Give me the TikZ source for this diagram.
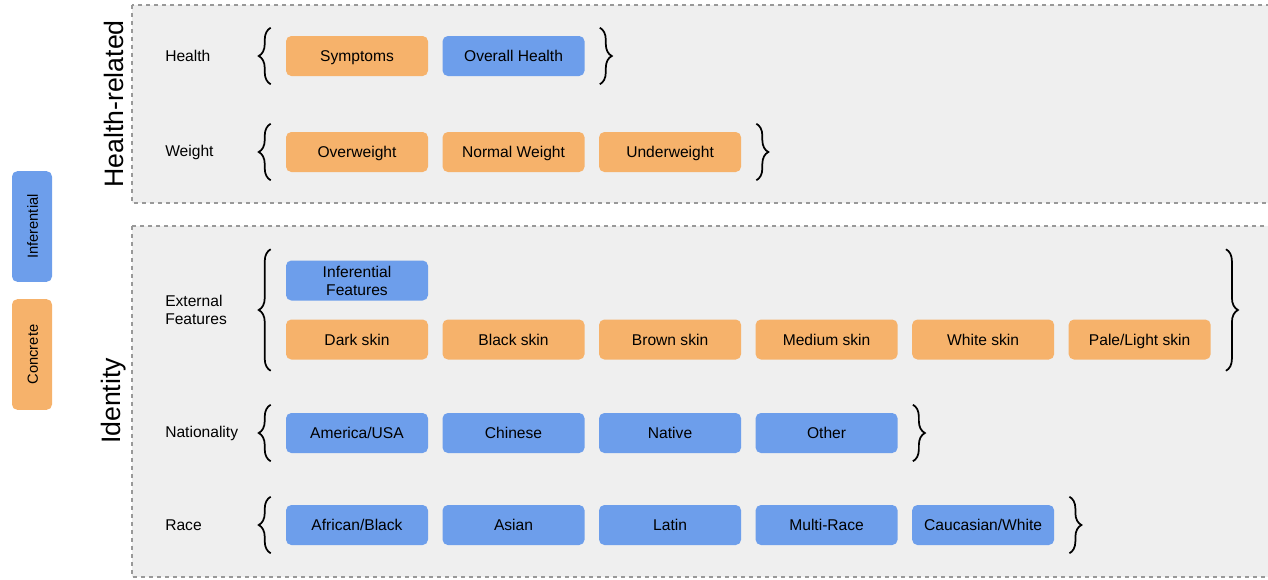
\documentclass[tikz,border=0pt]{standalone}
\usepackage{fontspec}
\setmainfont{Liberation Sans}
\usepackage{tikz}
\usetikzlibrary{calc,positioning,decorations.pathreplacing}
\definecolor{concrete}{HTML}{F6B26B}
\definecolor{inferential}{HTML}{6D9EEB}
\definecolor{panel}{HTML}{EFEFEF}

\begin{document}
\begin{tikzpicture}[x=0.75pt,y=-0.75pt,node distance=10.5pt,
		cat/.style={rounded corners=4pt,minimum width=106.5pt,minimum height=30pt,inner sep=1pt,align=center,font=\fontsize{11.7}{13.5}\selectfont},
		oneline/.style={text height=8.7pt,text depth=0pt},
		conc/.style={cat,oneline,fill=concrete},
		infer/.style={cat,oneline,fill=inferential},
		grp/.style={draw=black!40,dashed,line width=0.8pt,fill=panel},
		brc/.style={decorate,decoration={brace,amplitude=9pt},line width=1.3pt},
		lbl/.style={anchor=west,align=left,inner sep=0pt,font=\fontsize{11.7}{13.5}\selectfont},
		big/.style={rotate=90,font=\fontsize{20}{24}\selectfont}]
		\useasboundingbox (0,0) rectangle (1268,579);
		% groups
		\draw[grp] (132,5) rectangle (1275,203);
		\draw[grp] (132,226) rectangle (1275,577);
		\node[big] (healthrel) at (114,104) {Health-related};
		\node[big] (identity) at (114,401) {Identity};
		% legend
		\node[infer,rotate=90,minimum width=83pt,font=\fontsize{11}{12}\selectfont] (leginf) at (32,226.5) {Inferential};
		\node[conc,rotate=90,minimum width=83pt,font=\fontsize{11}{12}\selectfont] (legconc) at (32,354.5) {Concrete};
		% health
		\node[lbl] (health) at (165,56) {Health};
		\node[conc] (symptoms) at (357,56) {Symptoms};
		\node[infer,right=of symptoms] (overall) {Overall Health};
		\draw[brc] ($(symptoms.south west)+(-15,8)$) -- ($(symptoms.north west)+(-15,-8)$);
		\draw[brc] ($(overall.north east)+(15,-8)$) -- ($(overall.south east)+(15,8)$);
		% weight
		\node[lbl] (weight) at (165,152) {Weight};
		\node[conc] (overweight) at (357,152) {Overweight};
		\node[conc,right=of overweight] (normal) {Normal Weight};
		\node[conc,right=of normal] (underweight) {Underweight};
		\draw[brc] ($(overweight.south west)+(-15,8)$) -- ($(overweight.north west)+(-15,-8)$);
		\draw[brc] ($(underweight.north east)+(15,-8)$) -- ($(underweight.south east)+(15,8)$);
		% external features
		\node[lbl] (external) at (165,310) {External\\Features};
		\node[cat,fill=inferential] (inffeat) at (357,280.5) {Inferential\\Features};
		\node[conc] (dark) at (357,339.5) {Dark skin};
		\node[conc,right=of dark] (black) {Black skin};
		\node[conc,right=of black] (brown) {Brown skin};
		\node[conc,right=of brown] (medium) {Medium skin};
		\node[conc,right=of medium] (white) {White skin};
		\node[conc,right=of white] (pale) {Pale/Light skin};
		\draw[brc] ($(dark.south west)+(-15,11)$) -- ($(inffeat.north west)+(-15,-11)$);
		\draw[brc] ($(pale.north east)+(15,-70)$) -- ($(pale.south east)+(15,11)$);
		% nationality
		\node[lbl] (nationality) at (165,433) {Nationality};
		\node[infer] (america) at (357,433) {America/USA};
		\node[infer,right=of america] (chinese) {Chinese};
		\node[infer,right=of chinese] (native) {Native};
		\node[infer,right=of native] (other) {Other};
		\draw[brc] ($(america.south west)+(-15,8)$) -- ($(america.north west)+(-15,-8)$);
		\draw[brc] ($(other.north east)+(15,-8)$) -- ($(other.south east)+(15,8)$);
		% race
		\node[lbl] (race) at (165,525) {Race};
		\node[infer] (african) at (357,525) {African/Black};
		\node[infer,right=of african] (asian) {Asian};
		\node[infer,right=of asian] (latin) {Latin};
		\node[infer,right=of latin] (multi) {Multi-Race};
		\node[infer,right=of multi] (caucasian) {Caucasian/White};
		\draw[brc] ($(african.south west)+(-15,8)$) -- ($(african.north west)+(-15,-8)$);
		\draw[brc] ($(caucasian.north east)+(15,-8)$) -- ($(caucasian.south east)+(15,8)$);
	\end{tikzpicture}
\end{document}
